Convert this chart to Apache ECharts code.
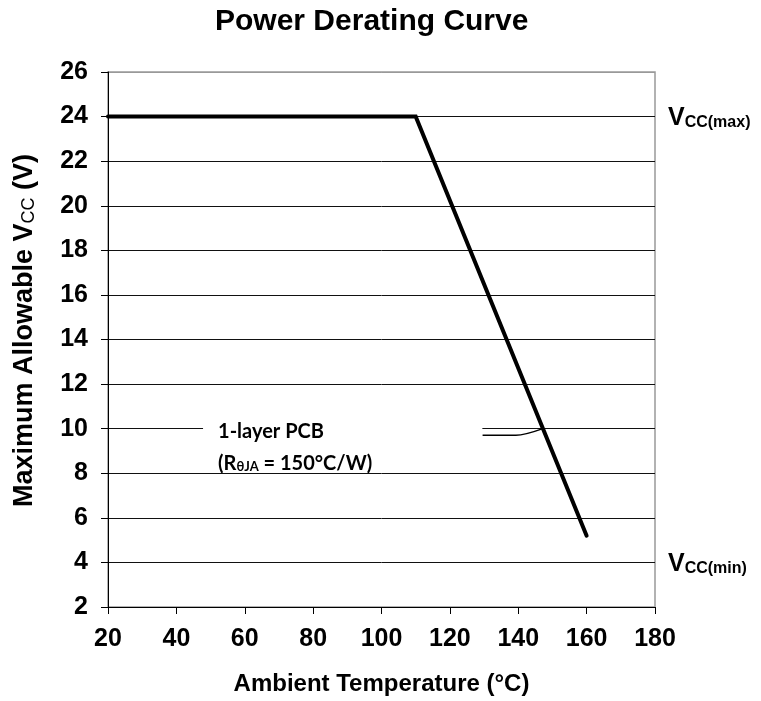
<!DOCTYPE html>
<html>
<head>
<meta charset="utf-8">
<script src="https://cdn.jsdelivr.net/npm/echarts@6/dist/echarts.min.js"></script>
<style>
  html, body { margin: 0; padding: 0; background: #fff; }
  #chart { width: 761px; height: 701px; }
</style>
</head>
<body>
<div id="chart"></div>
<script>
// derating curve (ambient temp °C, max Vcc V)
const tempPts = [20, 110, 160]
const vccPts = [24, 24, 5.2]
// leader line from the PCB note to the curve
const leaderTemp = [129.5, 139.3, 147.2]
const leaderVcc = [9.7, 9.7, 10]
const xTicks = { min: 20, max: 180, interval: 20 }
const yTicks = { min: 2, max: 26, interval: 2 }
const vccMax = 24
const vccMin = 4

const boldFont = '"Liberation Sans", Arial, sans-serif'
const noteFont = 'Lato, "Open Sans", sans-serif'

const chart = echarts.init(document.getElementById('chart'))

// gridlines are dark, the top one is grey like the frame
const gridColors = ['#111', '#111', '#111', '#111', '#111', '#111', '#111', '#111', '#111', '#111', '#111', '#111', '#999']

const option = {
  animation: false,
  title: {
    text: 'Power Derating Curve',
    left: 210,
    top: 2,
    textStyle: { fontFamily: boldFont, fontSize: 30, fontWeight: 'bold', color: '#000' },
  },
  grid: {
    left: 108, right: 106, top: 72, bottom: 94,
    outerBoundsMode: 'none',
    show: true, borderColor: '#999', borderWidth: 1.5, backgroundColor: 'transparent',
  },
  xAxis: {
    type: 'value',
    min: xTicks.min,
    max: xTicks.max,
    interval: xTicks.interval,
    name: 'Ambient Temperature (°C)',
    nameLocation: 'middle',
    nameGap: 65,
    nameTextStyle: { fontFamily: boldFont, fontSize: 24, fontWeight: 'bold', color: '#000' },
    axisLine: { lineStyle: { color: '#000', width: 1 } },
    axisTick: { show: true, length: 7, lineStyle: { color: '#000' } },
    axisLabel: { fontFamily: boldFont, fontSize: 25, fontWeight: 'bold', color: '#000', margin: 20 },
    splitLine: { show: false },
  },
  yAxis: {
    type: 'value',
    min: yTicks.min,
    max: yTicks.max,
    interval: yTicks.interval,
    name: '{p|}{a|Maximum Allowable V}{s|CC}{a| (V)}',
    nameLocation: 'middle',
    nameRotate: 90,
    nameGap: 70,
    nameTextStyle: {
      rich: {
        p: { width: 18, lineHeight: 28 },
        a: { fontFamily: boldFont, fontSize: 27, fontWeight: 'bold', color: '#000', verticalAlign: 'bottom', lineHeight: 28 },
        s: { fontFamily: boldFont, fontSize: 18, fontWeight: 'normal', color: '#000', verticalAlign: 'bottom', lineHeight: 28, padding: [7, 0, 0, 0] },
      },
    },
    axisLine: { show: true, lineStyle: { color: '#000', width: 1 } },
    axisTick: { show: true, length: 7, lineStyle: { color: '#000' } },
    axisLabel: { fontFamily: boldFont, fontSize: 25, fontWeight: 'bold', color: '#000', margin: 20 },
    splitLine: { show: true, lineStyle: { color: gridColors, width: 1 } },
  },
  series: [
    {
      name: 'Derating',
      type: 'line',
      data: tempPts.map((t, i) => [t, vccPts[i]]),
      symbol: 'none',
      lineStyle: { color: '#000', width: 4, cap: 'round', join: 'miter' },
      z: 5,
      markLine: {
        silent: true,
        symbol: 'none',
        lineStyle: { color: 'rgba(0,0,0,0)', width: 0 },
        label: {
          show: true,
          position: 'end',
          distance: 13,
          rich: {
            v: { fontFamily: boldFont, fontSize: 25, fontWeight: 'bold', color: '#000', verticalAlign: 'bottom', lineHeight: 28 },
            s: { fontFamily: boldFont, fontSize: 16, fontWeight: 'bold', color: '#000', verticalAlign: 'bottom', lineHeight: 28, padding: [9, 0, 0, 0] },
          },
        },
        data: [
          { yAxis: vccMax, label: { formatter: '{v|V}{s|CC(max)}' } },
          { yAxis: vccMin, label: { formatter: '{v|V}{s|CC(min)}' } },
        ],
      },
    },
    {
      name: 'Leader',
      type: 'line',
      data: leaderTemp.map((t, i) => [t, leaderVcc[i]]),
      symbol: 'none',
      smooth: 0.3,
      lineStyle: { color: '#000', width: 1.5 },
      z: 4,
    },
  ],
}

chart.setOption(option)

// note box: white patch over the 10 V gridline plus the two text lines
const p0 = chart.convertToPixel({ gridIndex: 0 }, [47.8, 10])
const p1 = chart.convertToPixel({ gridIndex: 0 }, [129.5, 10])
chart.setOption({
  graphic: [
    {
      type: 'rect',
      z: 100,
      shape: { x: p0[0], y: p0[1] - 12, width: p1[0] - p0[0], height: 50 },
      style: { fill: '#fff' },
    },
    {
      type: 'text',
      z: 101,
      left: p0[0] + 15,
      top: p0[1] - 7,
      style: {
        text: '{a|1-layer PCB}\n{a|(R}{s|θJA}{a| = 150°C/W)}',
        rich: {
          a: { fontFamily: noteFont, fontSize: 20, fontWeight: 'bold', fill: '#000', lineHeight: 32, verticalAlign: 'bottom' },
          s: { fontFamily: noteFont, fontSize: 13, fontWeight: 'bold', fill: '#000', lineHeight: 32, verticalAlign: 'bottom', padding: [7, 0, 0, 0] },
        },
      },
    },
  ],
})

window.addEventListener('resize', () => chart.resize())
</script>
</body>
</html>
